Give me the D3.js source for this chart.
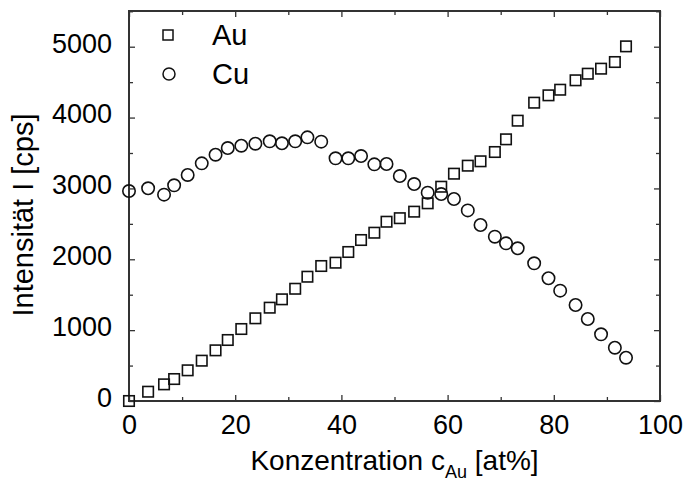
<!DOCTYPE html>
<html>
<head>
<meta charset="utf-8">
<script src="https://cdn.jsdelivr.net/npm/d3@7"></script>
<style>
  html, body { margin: 0; padding: 0; background: #fff; }
  svg { display: block; font-family: "Liberation Sans", Arial, sans-serif; }
</style>
</head>
<body>
<svg id="chart" width="684" height="483"></svg>
<script>
// Au concentration of each measurement [at%]
const concentration = [0, 3.6, 6.6, 8.5, 11.05, 13.7, 16.3, 18.6, 21.15, 23.8,
  26.5, 28.8, 31.3, 33.6, 36.2, 38.9, 41.3, 43.7, 46.2, 48.5,
  51.0, 53.7, 56.25, 58.8, 61.2, 63.8, 66.2, 68.9, 71.0, 73.2,
  76.3, 79.0, 81.2, 84.1, 86.4, 88.9, 91.5, 93.6];

// Measured intensities [cps]
const intensityAu = [0, 131, 235, 310, 433, 569, 715, 861, 1016, 1167,
  1317, 1435, 1584, 1754, 1905, 1952, 2103, 2272, 2375, 2530,
  2580, 2672, 2790, 3024, 3208, 3321, 3383, 3514, 3693, 3956,
  4210, 4314, 4393, 4526, 4619, 4690, 4784, 5005];
const intensityCu = [2963, 3002, 2912, 3044, 3190, 3354, 3476, 3570, 3603, 3631,
  3665, 3637, 3665, 3721, 3660, 3425, 3425, 3457, 3340, 3345,
  3175, 3062, 2940, 2921, 2851, 2690, 2484, 2319, 2225, 2155,
  1943, 1732, 1557, 1355, 1157, 941, 752, 611];

const xTicks = [0, 20, 40, 60, 80, 100];
const xMinorTicks = [10, 30, 50, 70, 90];
const yTicks = [0, 1000, 2000, 3000, 4000, 5000];
const yMinorTicks = [500, 1500, 2500, 3500, 4500, 5500];

const seriesNames = ["Au", "Cu"];

const W = 684, H = 483;
const margin = { left: 129, right: 24, top: 11, bottom: 82 };
const svg = d3.select("#chart");

const x = d3.scaleLinear().domain([0, 100]).range([margin.left, W - margin.right]);
const y = d3.scaleLinear().domain([0, 5504]).range([H - margin.bottom, margin.top]);

const axisColor = "#333";

// frame-style axes with inward ticks on all four sides
function styleAxis(g) {
  g.select(".domain").remove();
  g.selectAll(".tick line").attr("stroke", axisColor).attr("stroke-width", 1.3);
}

// bottom axis: major labelled ticks + minor ticks
const gx = svg.append("g").attr("transform", `translate(0,${y(0)})`)
  .call(d3.axisBottom(x).tickValues(xTicks).tickSize(-6).tickPadding(14).tickFormat(d3.format("d")));
styleAxis(gx);
gx.selectAll(".tick text").attr("font-size", 27).attr("fill", "#000")
  .attr("font-family", "'Liberation Sans', Arial, sans-serif");
const gxm = svg.append("g").attr("transform", `translate(0,${y(0)})`)
  .call(d3.axisBottom(x).tickValues(xMinorTicks).tickSize(-4).tickFormat(""));
styleAxis(gxm);

// top mirror axis
const gt = svg.append("g").attr("transform", `translate(0,${margin.top})`)
  .call(d3.axisTop(x).tickValues(xTicks).tickSize(-6).tickFormat(""));
styleAxis(gt);
const gtm = svg.append("g").attr("transform", `translate(0,${margin.top})`)
  .call(d3.axisTop(x).tickValues(xMinorTicks).tickSize(-4).tickFormat(""));
styleAxis(gtm);

// left axis
const gy = svg.append("g").attr("transform", `translate(${margin.left},0)`)
  .call(d3.axisLeft(y).tickValues(yTicks).tickSize(-6).tickPadding(17).tickFormat(d3.format("d")));
styleAxis(gy);
gy.selectAll(".tick text").attr("font-size", 27).attr("fill", "#000")
  .attr("dy", "0.2em")
  .attr("font-family", "'Liberation Sans', Arial, sans-serif");
const gym = svg.append("g").attr("transform", `translate(${margin.left},0)`)
  .call(d3.axisLeft(y).tickValues(yMinorTicks).tickSize(-4).tickFormat(""));
styleAxis(gym);

// right mirror axis
const gr = svg.append("g").attr("transform", `translate(${W - margin.right},0)`)
  .call(d3.axisRight(y).tickValues(yTicks).tickSize(-6).tickFormat(""));
styleAxis(gr);
const grm = svg.append("g").attr("transform", `translate(${W - margin.right},0)`)
  .call(d3.axisRight(y).tickValues(yMinorTicks).tickSize(-4).tickFormat(""));
styleAxis(grm);

// frame
svg.append("rect")
  .attr("x", margin.left).attr("y", margin.top)
  .attr("width", W - margin.left - margin.right)
  .attr("height", H - margin.top - margin.bottom)
  .attr("fill", "none").attr("stroke", axisColor).attr("stroke-width", 2);

// data markers
const sq = 10.5;
const auData = concentration.map((c, i) => ({ c, v: intensityAu[i] }));
const cuData = concentration.map((c, i) => ({ c, v: intensityCu[i] }));

svg.append("g").selectAll("rect").data(auData).join("rect")
  .attr("x", d => x(d.c) - sq / 2).attr("y", d => y(d.v) - sq / 2)
  .attr("width", sq).attr("height", sq)
  .attr("fill", "none").attr("stroke", "#111").attr("stroke-width", 1.6);

svg.append("g").selectAll("circle").data(cuData).join("circle")
  .attr("cx", d => x(d.c)).attr("cy", d => y(d.v)).attr("r", 6.2)
  .attr("fill", "none").attr("stroke", "#111").attr("stroke-width", 1.6);

// legend
const lg = svg.append("g");
lg.append("rect").attr("x", 163).attr("y", 30).attr("width", 10).attr("height", 10)
  .attr("fill", "none").attr("stroke", "#111").attr("stroke-width", 1.5);
lg.append("circle").attr("cx", 169).attr("cy", 74).attr("r", 6)
  .attr("fill", "none").attr("stroke", "#111").attr("stroke-width", 1.5);
lg.selectAll("text").data(seriesNames).join("text")
  .attr("x", 212).attr("y", (d, i) => 45 + i * 39)
  .attr("font-size", 29).attr("fill", "#000").text(d => d);

// axis titles
const xt = svg.append("text")
  .attr("x", (margin.left + W - margin.right) / 2).attr("y", 470)
  .attr("text-anchor", "middle").attr("font-size", 28).attr("fill", "#000");
xt.append("tspan").text("Konzentration c");
xt.append("tspan").attr("font-size", 18).attr("dy", 8).text("Au");
xt.append("tspan").attr("dy", -8).text(" [at%]");

svg.append("text")
  .attr("transform", `translate(33,${(margin.top + H - margin.bottom) / 2 + 9}) rotate(-90)`)
  .attr("text-anchor", "middle").attr("font-size", 29).attr("fill", "#000")
  .text("Intensität I [cps]");
</script>
</body>
</html>
